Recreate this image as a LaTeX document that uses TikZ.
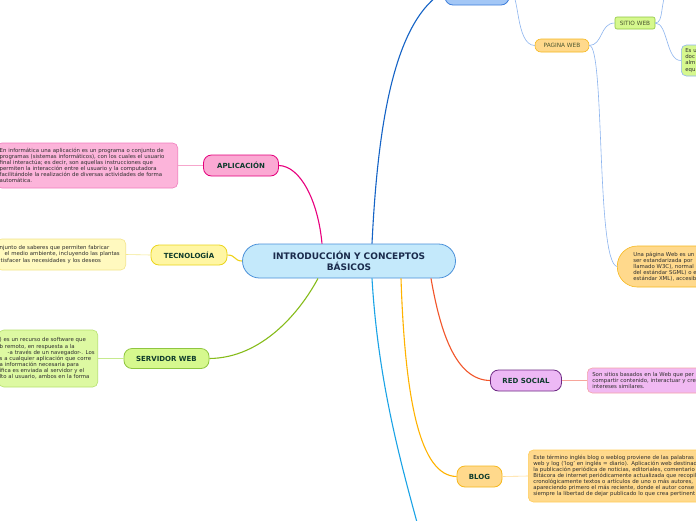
\documentclass[tikz,border=0pt]{standalone}
\usepackage{fontspec}
\setmainfont{DejaVu Sans}
\definecolor{introfill}{HTML}{C4E9FB}
\definecolor{introborde}{HTML}{4A90D9}
\definecolor{introtexto}{HTML}{1A2B4C}
\definecolor{textorama}{HTML}{0E3B2C}
\definecolor{textosub}{HTML}{4A5530}
\definecolor{textonota}{HTML}{2E2E2E}
\definecolor{aplicfill}{HTML}{FBA9D3}
\definecolor{aplicborde}{HTML}{E4007C}
\definecolor{aplicnota}{HTML}{FCB4DA}
\definecolor{aplicnotaborde}{HTML}{F17EBE}
\definecolor{tecnofill}{HTML}{FFF6A3}
\definecolor{tecnoborde}{HTML}{EBD51B}
\definecolor{tecnonota}{HTML}{FFF9BF}
\definecolor{tecnonotaborde}{HTML}{F3E58C}
\definecolor{servfill}{HTML}{D6F88E}
\definecolor{servborde}{HTML}{8FC640}
\definecolor{servnota}{HTML}{DDF9A2}
\definecolor{servnotaborde}{HTML}{B6E26E}
\definecolor{redfill}{HTML}{EDB8F5}
\definecolor{redborde}{HTML}{6E2A84}
\definecolor{rednota}{HTML}{F1B9F2}
\definecolor{rednotaborde}{HTML}{F5A3A8}
\definecolor{blogfill}{HTML}{FFD98C}
\definecolor{blogborde}{HTML}{F6B81E}
\definecolor{blognotaborde}{HTML}{FFCD5A}
\definecolor{arribafill}{HTML}{A3C7F6}
\definecolor{arribaborde}{HTML}{3D7EDB}
\definecolor{enlaceazul}{HTML}{1463C6}
\definecolor{enlacecian}{HTML}{1AA3E6}
\definecolor{enlacemagenta}{HTML}{E8007E}
\definecolor{enlaceamarillo}{HTML}{EFD21A}
\definecolor{enlaceverde}{HTML}{86BC1A}
\definecolor{enlacenaranja}{HTML}{F2552A}
\definecolor{enlaceoro}{HTML}{FFB300}
\definecolor{enlaceclaro}{HTML}{8DB5EF}
\definecolor{enlacerosa}{HTML}{F6A6CC}
\definecolor{enlacecrema}{HTML}{F4E98F}
\definecolor{enlacelima}{HTML}{C6EA8E}
\definecolor{enlacesalmon}{HTML}{F7A59B}
\definecolor{enlacedorado}{HTML}{FFDB8F}
\usetikzlibrary{calc}

\begin{document}
\begin{tikzpicture}[x=1pt, y=-1pt,
	rama/.style={draw, line width=0.8pt, rounded corners=8pt, inner sep=0pt, font=\fontsize{7}{8}\selectfont\bfseries, text=textorama},
	subrama/.style={draw, line width=0.6pt, inner sep=0pt, font=\fontsize{5.8}{7}\selectfont, text=textosub},
	nota/.style={draw, line width=0.6pt, rounded corners=5pt, align=left, inner ysep=0pt, font=\fontsize{5.4}{6.1}\selectfont, text=textonota},
	enlace/.style={line width=1.1pt},
	enlacesub/.style={line width=0.6pt}]
	\useasboundingbox (0,0) rectangle (696,520);
	\fill[white] (0,0) rectangle (696,520);
	\clip (0,0) rectangle (696,520);
	% nodo central
	\node[rama, fill=introfill, draw=introborde, text=introtexto, rounded corners=17pt, minimum width=213pt, minimum height=34pt, align=center, font=\fontsize{9}{10.5}\selectfont\bfseries] (intro) at (349,261) {INTRODUCCIÓN Y CONCEPTOS\\BÁSICOS};
	% ramas
	\node[rama, fill=aplicfill, draw=aplicborde, minimum width=75pt, minimum height=21pt] (aplicacion) at (241,165.5) {APLICACIÓN};
	\node[rama, fill=tecnofill, draw=tecnoborde, minimum width=76pt, minimum height=20pt] (tecnologia) at (189,255) {TECNOLOGÍA};
	\node[rama, fill=servfill, draw=servborde, minimum width=85pt, minimum height=20pt] (servidor) at (166.5,358.5) {SERVIDOR WEB};
	\node[rama, fill=redfill, draw=redborde, minimum width=71pt, minimum height=21pt] (redsocial) at (526,380.5) {RED SOCIAL};
	\node[rama, fill=blogfill, draw=blogborde, minimum width=45pt, minimum height=21pt] (blog) at (479.5,476.5) {BLOG};
	\node[rama, fill=arribafill, draw=arribaborde, minimum width=64pt, minimum height=28pt] (ramaarriba) at (477,-9) {};
	\node[subrama, fill=blogfill, draw=blogborde, rounded corners=6pt, minimum width=54pt, minimum height=13pt] (paginaweb) at (562,45.5) {PAGINA WEB};
	\node[subrama, fill=servfill, draw=servborde, rounded corners=2pt, minimum width=40pt, minimum height=12pt] (sitioweb) at (635,23) {SITIO WEB};
	% notas
	\node[nota, fill=aplicnota, draw=aplicnotaborde, anchor=east, text width=175pt, inner xsep=3pt, minimum height=45pt] (aplicaciontxt) at (178,165.5) {En informática una aplicación es un programa o conjunto de\\programas (sistemas informáticos), con los cuales el usuario\\final interactúa; es decir, son aquellas instrucciones que\\permiten la interacción entre el usuario y la computadora\\facilitándole la realización de diversas actividades de forma\\automática.};
	\node[nota, fill=tecnonota, draw=tecnonotaborde, anchor=east, text width=123pt, inner xsep=3pt, minimum height=31pt] (tecnologiatxt) at (126,254.5) {njunto de saberes que permiten fabricar\\\hspace*{5pt}el medio ambiente, incluyendo las plantas\\\hspace*{1pt}tisfacer las necesidades y los deseos};
	\node[nota, fill=servnota, draw=servnotaborde, anchor=east, text width=97pt, inner xsep=1pt, minimum height=57pt] (servidortxt) at (98,358.5) {) es un recurso de software que\\b remoto, en respuesta a la\\\hspace*{8pt}-a través de un navegador-. Los\\s a cualquier aplicación que corre\\a información necesaria para\\ífica es enviada al servidor y el\\lto al usuario, ambos en la forma};
	\node[nota, fill=rednota, draw=rednotaborde, anchor=west, text width=150pt, inner xsep=5pt, minimum height=25pt] (redsocialtxt) at (587,380.5) {Son sitios basados en la Web que per\\compartir contenido, interactuar y cre\\intereses similares.};
	\node[nota, fill=blogfill, draw=blognotaborde, anchor=west, text width=190pt, inner xsep=5pt, minimum height=52pt] (blogtxt) at (528,476) {Este término inglés blog o weblog proviene de las palabras\\web y log ('log' en inglés = diario). Aplicación web destinad\\la publicación periódica de noticias, editoriales, comentario\\Bitácora de internet periódicamente actualizada que recopil\\cronológicamente textos o artículos de uno o más autores,\\apareciendo primero el más reciente, donde el autor conse\\siempre la libertad de dejar publicado lo que crea pertinent};
	\node[nota, fill=servfill, draw=enlaceclaro, anchor=west, text width=52pt, inner xsep=4pt, minimum height=31pt] (sitiotxt) at (681,60.5) {Es u\\doc\\alm\\equ};
	\node[nota, fill=blogfill, draw=blogborde, anchor=west, rounded corners=20pt, text width=128pt, inner xsep=16pt, minimum height=41pt] (paginatxt) at (617,266.5) {Una página Web es un\\ser estandarizada por\\llamado W3C), normal\\del estándar SGML) o e\\estándar XML), accesib};
	\coordinate (abajo) at (418,526);
	\coordinate (arriba) at (667,-8);
	% enlaces del nodo central
	\draw[enlace, enlacemagenta] (aplicacion.east) .. controls (300,166) and (318,200) .. ([xshift=-27pt]intro.north);
	\draw[enlace, enlaceamarillo] (tecnologia.east) .. controls (236,255) and (234,261) .. (intro.west);
	\draw[enlace, enlaceverde] (servidor.east) .. controls (262,358) and (300,312) .. ([xshift=-31pt]intro.south);
	\draw[enlace, enlaceazul] ([xshift=23pt]intro.north) .. controls (378,120) and (395,20) .. (ramaarriba.west);
	\draw[enlace, enlacecian] ([xshift=23pt]intro.south) .. controls (378,380) and (400,460) .. (abajo);
	\draw[enlace, enlaceoro] ([xshift=52pt]intro.south) .. controls (405,400) and (420,476) .. (blog.west);
	\draw[enlace, enlacenaranja] ([xshift=82pt]intro.south) .. controls (440,330) and (455,380) .. (redsocial.west);
	% enlaces de las notas
	\draw[enlacesub, enlacerosa] (aplicaciontxt.east) -- (aplicacion.west);
	\draw[enlacesub, enlacecrema] (tecnologiatxt.east) -- (tecnologia.west);
	\draw[enlacesub, enlacelima] (servidortxt.east) -- (servidor.west);
	\draw[enlacesub, enlacesalmon] (redsocial.east) -- (redsocialtxt.west);
	\draw[enlacesub, enlacedorado] (blog.east) -- (blogtxt.west);
	% pagina web
	\draw[enlacesub, enlaceclaro] (ramaarriba.east) .. controls (520,-9) and (515,45) .. (paginaweb.west);
	\draw[enlacesub, enlaceclaro] (paginaweb.east) .. controls (603,45) and (600,23) .. (sitioweb.west);
	\draw[enlacesub, enlaceclaro] (sitioweb.east) .. controls (664,23) and (660,2) .. (arriba);
	\draw[enlacesub, enlaceclaro] (sitioweb.east) .. controls (668,23) and (666,61) .. (sitiotxt.west);
	\draw[enlacesub, enlaceclaro] (paginaweb.east) .. controls (605,45) and (596,262) .. (paginatxt.west);
\end{tikzpicture}
\end{document}
